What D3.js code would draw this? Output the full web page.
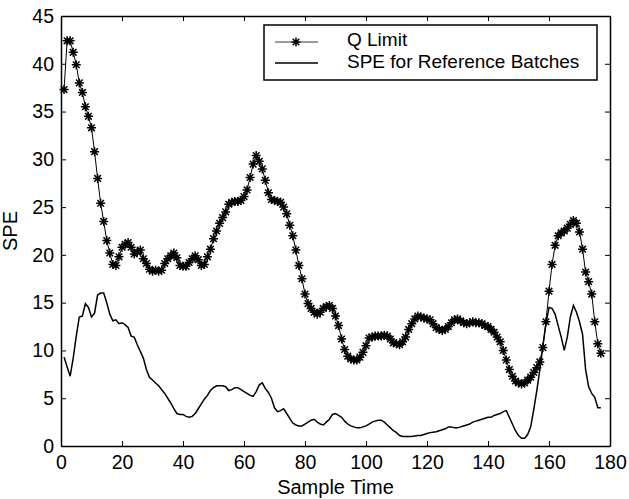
<!DOCTYPE html>
<meta charset="utf-8">
<style>
  body { margin: 0; background: #fff; }
  text { font-family: Arial, "Liberation Sans", sans-serif; fill: #000; }
  .line { fill: none; stroke: #000; }
</style>
<body>
<script src="https://d3js.org/d3.v7.min.js"></script>
<script>

// Q limit, one value per sample (t = 1..177)
var qLimit = [
  37.3, 42.4, 42.4, 41.2, 39.9, 38.0, 37.0, 35.5, 34.5, 33.3,
  30.8, 28.0, 25.4, 23.5, 21.5, 20.2, 19.0, 18.9, 19.8, 20.8,
  21.1, 21.3, 20.8, 20.1, 20.3, 20.5, 19.6, 19.1, 18.5, 18.3,
  18.4, 18.3, 18.4, 19.1, 19.6, 19.9, 20.2, 19.7, 18.9, 18.8,
  18.8, 19.2, 19.6, 19.9, 19.5, 18.9, 19.0, 19.8, 20.6, 21.7,
  22.5, 23.3, 23.9, 24.5, 25.3, 25.5, 25.6, 25.6, 25.7, 26.1,
  26.8, 28.1, 29.5, 30.4, 29.8, 29.0, 27.8, 26.5, 25.8, 25.7,
  25.6, 25.5, 25.0, 24.3, 23.1, 22.0, 20.5, 18.9, 17.5, 15.9,
  14.9, 14.4, 14.0, 13.8, 14.0, 14.4, 14.6, 14.7, 14.4, 13.6,
  12.6, 11.2, 10.1, 9.4, 9.1, 9.0, 9.0, 9.3, 9.8, 10.5,
  11.3, 11.4, 11.5, 11.5, 11.5, 11.6, 11.5, 11.2, 10.8, 10.7,
  10.6, 10.9, 11.4, 12.2, 12.8, 13.3, 13.6, 13.5, 13.4, 13.3,
  13.2, 12.8, 12.4, 12.2, 12.1, 12.2, 12.5, 12.9, 13.2, 13.3,
  13.1, 12.9, 12.8, 12.9, 13.0, 12.9, 12.9, 12.8, 12.6, 12.5,
  12.2, 11.9, 11.4, 10.9, 10.0, 9.0, 8.0, 7.3, 6.8, 6.6,
  6.5, 6.6, 6.9, 7.2, 7.7, 8.2, 8.8, 10.3, 13.0, 16.2,
  19.0, 21.0, 22.0, 22.3, 22.5, 22.8, 23.2, 23.6, 23.3, 22.4,
  20.6, 18.2, 17.2, 15.9, 13.0, 10.7, 9.7
];

// SPE for the reference batches (t = 1..177)
var speRef = [
  9.3, 8.3, 7.3, 9.2, 11.5, 13.5, 13.6, 14.9, 14.5, 13.5,
  13.9, 15.8, 16.0, 16.0, 15.0, 13.8, 13.1, 13.2, 12.8, 12.9,
  12.7, 12.4, 11.5, 11.4, 10.6, 9.9, 9.2, 8.0, 7.2, 6.9,
  6.6, 6.3, 5.9, 5.5, 5.0, 4.5, 3.9, 3.4, 3.3, 3.3,
  3.1, 3.0, 3.1, 3.4, 3.9, 4.4, 4.9, 5.3, 5.8, 6.1,
  6.3, 6.3, 6.3, 6.2, 5.8, 5.9, 6.1, 6.1, 5.9, 5.7,
  5.5, 5.3, 5.2, 5.7, 6.4, 6.6, 6.0, 5.6, 5.0, 4.0,
  3.6, 3.7, 3.9, 3.4, 2.9, 2.4, 2.2, 2.1, 2.1, 2.3,
  2.5, 2.7, 2.8, 2.5, 2.3, 2.2, 2.5, 2.8, 3.3, 3.4,
  3.2, 3.0, 2.6, 2.3, 2.1, 2.0, 1.9, 1.9, 2.0, 2.1,
  2.3, 2.5, 2.6, 2.7, 2.7, 2.5, 2.2, 1.9, 1.6, 1.4,
  1.1, 1.0, 1.0, 1.0, 1.0, 1.05, 1.1, 1.1, 1.2, 1.3,
  1.4, 1.45, 1.5, 1.6, 1.7, 1.8, 2.0, 2.0, 1.9, 1.9,
  2.0, 2.1, 2.2, 2.3, 2.5, 2.6, 2.7, 2.8, 2.9, 3.0,
  3.0, 3.2, 3.3, 3.4, 3.6, 3.7, 3.0, 2.3, 1.6, 1.1,
  0.8, 0.8, 1.2, 2.0, 3.8, 5.8, 8.0, 10.5, 12.8, 14.5,
  14.4, 13.8, 12.6, 11.4, 10.0, 11.4, 13.5, 14.7, 14.0, 13.0,
  11.7, 8.0, 6.2, 5.5, 5.1, 4.0, 4.0
];

var xTicks = [0, 20, 40, 60, 80, 100, 120, 140, 160, 180];
var yTicks = [0, 5, 10, 15, 20, 25, 30, 35, 40, 45];
var legendLabels = ["Q Limit", "SPE for Reference Batches"];

var W = 629, H = 499;
var margin = {top: 16, right: 19, bottom: 53, left: 61},
    width = W - margin.left - margin.right,
    height = H - margin.top - margin.bottom;

var x = d3.scaleLinear().domain([0, 180]).range([0, width]);
var y = d3.scaleLinear().domain([0, 45]).range([height, 0]);

var svg = d3.select("body").append("svg")
    .attr("width", W)
    .attr("height", H)
  .append("g")
    .attr("transform", "translate(" + margin.left + "," + margin.top + ")");

// matlab style star marker
var star = "M-4.5,0H4.5M0,-4.5V4.5M-3.3,-3.3L3.3,3.3M-3.3,3.3L3.3,-3.3";

// axes (ticks pointing inward, box all round)
var tickLen = 5;
svg.append("g")
    .attr("transform", "translate(0," + height + ")")
    .call(d3.axisBottom(x).tickValues(xTicks).tickSizeInner(-tickLen).tickSizeOuter(0).tickPadding(9));
svg.append("g")
    .call(d3.axisLeft(y).tickValues(yTicks).tickSizeInner(-tickLen).tickSizeOuter(0).tickPadding(7));
svg.append("g")
    .call(d3.axisTop(x).tickValues(xTicks).tickSizeInner(-tickLen).tickSizeOuter(0).tickFormat(""));
svg.append("g")
    .attr("transform", "translate(" + width + ",0)")
    .call(d3.axisRight(y).tickValues(yTicks).tickSizeInner(-tickLen).tickSizeOuter(0).tickFormat(""));

svg.selectAll(".domain").attr("stroke", "#000").attr("stroke-width", 1.5);
svg.selectAll(".tick line").attr("stroke", "#000");
svg.selectAll(".tick text").attr("font-size", 19.5).attr("fill", "#000")
    .attr("font-family", "Arial, 'Liberation Sans', sans-serif");

// lines
var line = d3.line()
    .x(function(d, i) { return x(i + 1); })
    .y(function(d) { return y(d); });

svg.append("path")
    .datum(qLimit)
    .attr("class", "line")
    .attr("stroke-width", 1)
    .attr("d", line);

svg.selectAll(".qmark")
    .data(qLimit)
  .enter().append("path")
    .attr("class", "line qmark")
    .attr("stroke-width", 1.5)
    .attr("d", star)
    .attr("transform", function(d, i) { return "translate(" + x(i + 1) + "," + y(d) + ")"; });

svg.append("path")
    .datum(speRef)
    .attr("class", "line")
    .attr("stroke-width", 1.5)
    .attr("d", line);

// legend
var lg = svg.append("g").attr("transform", "translate(203,9)");
lg.append("rect")
    .attr("width", 333).attr("height", 55)
    .attr("fill", "#fff").attr("stroke", "#000").attr("stroke-width", 1.5);
lg.append("line").attr("x1", 11).attr("x2", 54).attr("y1", 17).attr("y2", 17)
    .attr("stroke", "#000").attr("stroke-width", 0.8);
lg.append("path").attr("class", "line").attr("stroke-width", 1.5).attr("d", star)
    .attr("transform", "translate(32,17)");
lg.append("line").attr("x1", 11).attr("x2", 54).attr("y1", 38).attr("y2", 38)
    .attr("stroke", "#000").attr("stroke-width", 1.5);
lg.selectAll(".ltext")
    .data(legendLabels)
  .enter().append("text")
    .attr("x", 83)
    .attr("y", function(d, i) { return 14.5 + i * 22; })
    .attr("dy", "0.35em")
    .attr("font-size", 19)
    .text(function(d) { return d; });

// axis titles
svg.append("text")
    .attr("x", width / 2)
    .attr("y", height + 48)
    .attr("text-anchor", "middle")
    .attr("font-size", 20)
    .text("Sample Time");
svg.append("text")
    .attr("transform", "translate(-44," + (height / 2) + ") rotate(-90)")
    .attr("text-anchor", "middle")
    .attr("font-size", 20)
    .text("SPE");

</script>
</body>
